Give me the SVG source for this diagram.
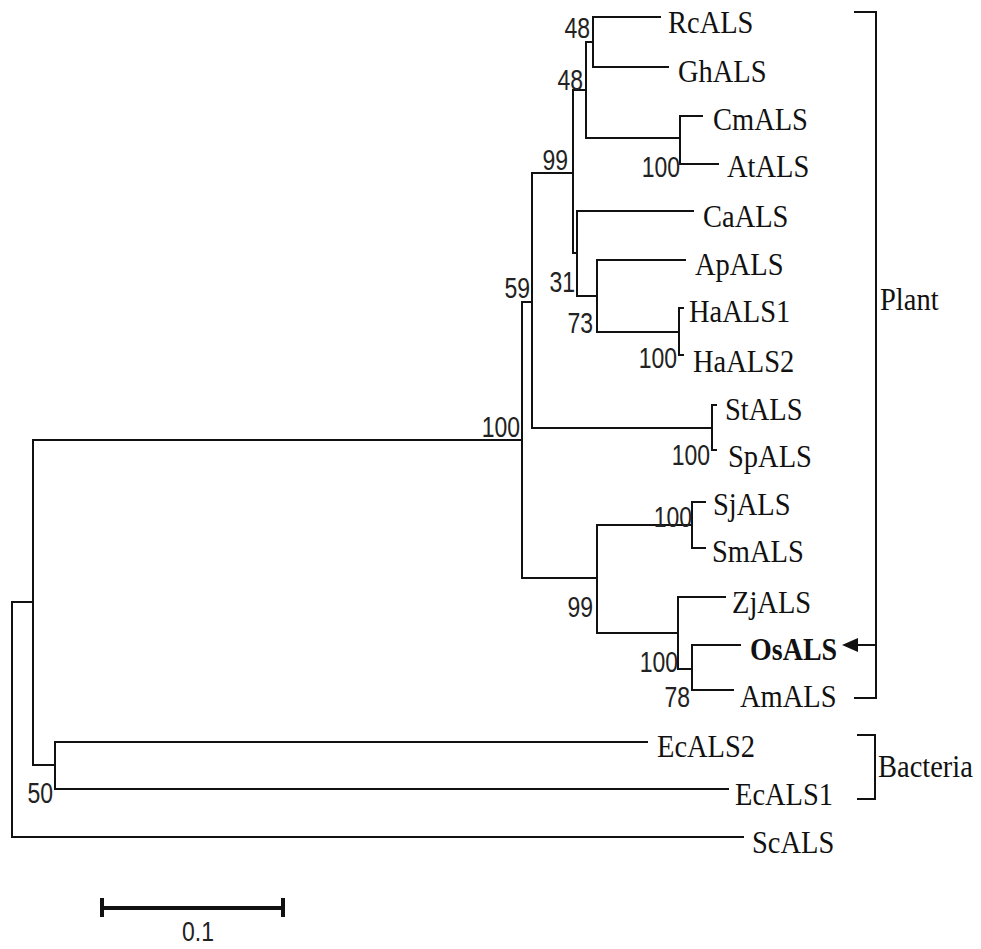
<svg xmlns="http://www.w3.org/2000/svg" width="981" height="949" viewBox="0 0 981 949">
<style>
.br{fill:none;stroke:#111;stroke-width:2;stroke-linecap:square}
.leaf{font-family:"Liberation Serif","Times New Roman",serif;font-size:28.5px;fill:#111}
.bold{font-weight:bold;font-size:28px}
.bs{font-family:"Liberation Sans",Arial,sans-serif;font-size:23px;fill:#222;text-anchor:end}
.grp{font-family:"Liberation Serif","Times New Roman",serif;font-size:28.5px;fill:#111}
.sb{fill:none;stroke:#111;stroke-width:4}
</style>
<rect width="981" height="949" fill="#fff"/>
<g id="connectors" class="br">
<path d="M33,602 H12 V837 H743"/>
<path d="M33,440 V765"/>
<path d="M33,440 H522"/>
<path d="M33,765 H55 M55,742 V789 M55,742 H647 M55,789 H728"/>
<path d="M522,302 V578"/>
<path d="M522,302 H532 M532,173 V428"/>
<path d="M532,173 H573 M573,90 V253"/>
<path d="M573,90 H586 M586,42 V138"/>
<path d="M586,42 H593 M593,17 V67 M593,17 H660 M593,67 H668"/>
<path d="M586,138 H680 M680,116 V164 M680,116 H702 M680,164 H718"/>
<path d="M573,253 H577 M577,211 V296 M577,211 H693"/>
<path d="M577,296 H597 M597,260 V332 M597,260 H685 M597,332 H679 M679,308 V355 M679,308 H683 M679,355 H683"/>
<path d="M532,428 H712 M712,405 V450 M712,405 H716 M712,450 H716"/>
<path d="M522,578 H597 M597,525 V633"/>
<path d="M597,525 H692 M692,502 V548 M692,502 H705 M692,548 H705"/>
<path d="M597,633 H678 M678,597 V669 M678,597 H725"/>
<path d="M678,669 H692 M692,645 V690 M692,645 H740 M692,690 H733"/>
</g>
<g id="leaf-RcALS"><text class="leaf" transform="translate(668,33) scale(1,1.1)">RcALS</text></g>
<g id="leaf-GhALS"><text class="leaf" transform="translate(678,82) scale(1,1.1)">GhALS</text></g>
<g id="leaf-CmALS"><text class="leaf" transform="translate(713,130) scale(1,1.1)">CmALS</text></g>
<g id="leaf-AtALS"><text class="leaf" transform="translate(727,177) scale(1,1.1)">AtALS</text></g>
<g id="leaf-CaALS"><text class="leaf" transform="translate(703,227) scale(1,1.1)">CaALS</text></g>
<g id="leaf-ApALS"><text class="leaf" transform="translate(695,275) scale(1,1.1)">ApALS</text></g>
<g id="leaf-HaALS1"><text class="leaf" transform="translate(689,322) scale(1,1.1)">HaALS1</text></g>
<g id="leaf-HaALS2"><text class="leaf" transform="translate(693,372) scale(1,1.1)">HaALS2</text></g>
<g id="leaf-StALS"><text class="leaf" transform="translate(725,420) scale(1,1.1)">StALS</text></g>
<g id="leaf-SpALS"><text class="leaf" transform="translate(728,467) scale(1,1.1)">SpALS</text></g>
<g id="leaf-SjALS"><text class="leaf" transform="translate(713,515) scale(1,1.1)">SjALS</text></g>
<g id="leaf-SmALS"><text class="leaf" transform="translate(712,562) scale(1,1.1)">SmALS</text></g>
<g id="leaf-ZjALS"><text class="leaf" transform="translate(732,613) scale(1,1.1)">ZjALS</text></g>
<g id="leaf-OsALS"><text class="leaf bold" transform="translate(750,660) scale(1,1.1)">OsALS</text></g>
<g id="leaf-AmALS"><text class="leaf" transform="translate(740,707) scale(1,1.1)">AmALS</text></g>
<g id="leaf-EcALS2"><text class="leaf" transform="translate(657,757) scale(1,1.1)">EcALS2</text></g>
<g id="leaf-EcALS1"><text class="leaf" transform="translate(735,805) scale(1,1.1)">EcALS1</text></g>
<g id="leaf-ScALS"><text class="leaf" transform="translate(752,853) scale(1,1.1)">ScALS</text></g>
<g id="node-RcGh"><text class="bs" transform="translate(590,38) scale(1,1.3)">48</text></g>
<g id="node-RcGhCmAt"><text class="bs" transform="translate(583,90) scale(1,1.3)">48</text></g>
<g id="node-CmAt"><text class="bs" transform="translate(680,177) scale(1,1.3)">100</text></g>
<g id="node-upper"><text class="bs" transform="translate(568,170) scale(1,1.3)">99</text></g>
<g id="node-CaApHa"><text class="bs" transform="translate(575,292) scale(1,1.3)">31</text></g>
<g id="node-ApHa"><text class="bs" transform="translate(593,333) scale(1,1.3)">73</text></g>
<g id="node-Ha"><text class="bs" transform="translate(677,368) scale(1,1.3)">100</text></g>
<g id="node-dicot"><text class="bs" transform="translate(530,298) scale(1,1.3)">59</text></g>
<g id="node-plant"><text class="bs" transform="translate(520,437) scale(1,1.3)">100</text></g>
<g id="node-StSp"><text class="bs" transform="translate(710,465) scale(1,1.3)">100</text></g>
<g id="node-SjSm"><text class="bs" transform="translate(692,527) scale(1,1.3)">100</text></g>
<g id="node-monocot"><text class="bs" transform="translate(593,617) scale(1,1.3)">99</text></g>
<g id="node-ZjOsAm"><text class="bs" transform="translate(678,672) scale(1,1.3)">100</text></g>
<g id="node-OsAm"><text class="bs" transform="translate(690,707) scale(1,1.3)">78</text></g>
<g id="node-bacteria"><text class="bs" transform="translate(53,803) scale(1,1.3)">50</text></g>
<g id="group-plant">
<path class="br" d="M855,12 H876 V698 H855"/>
<path class="br" d="M876,645 H856"/>
<polygon points="842,645 858,638 858,652" fill="#111"/>
<text class="grp" transform="translate(880,310) scale(1,1.1)">Plant</text>
</g>
<g id="group-bacteria">
<path class="br" d="M858,735 H875 V799 H858"/>
<text class="grp" transform="translate(878,777) scale(1,1.1)">Bacteria</text>
</g>
<g id="scale-bar">
<path class="sb" d="M102,908 H283 M102,898 V917 M283,898 V917"/>
<text class="bs" style="text-anchor:middle" transform="translate(198,941) scale(1,1.2)">0.1</text>
</g>
</svg>
